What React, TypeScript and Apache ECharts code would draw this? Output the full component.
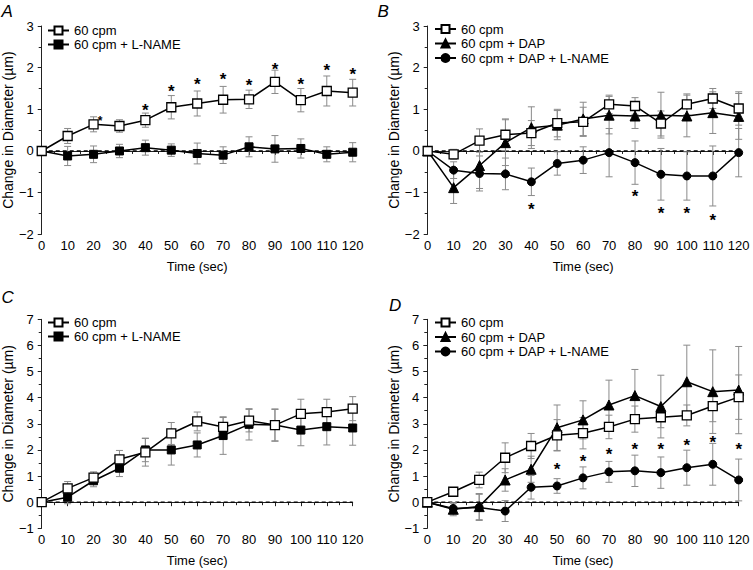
import React, { useEffect, useRef } from "react";
import * as echarts from "echarts";

const times = [0, 10, 20, 30, 40, 50, 60, 70, 80, 90, 100, 110, 120];
const xTickLabels = ["0", "10", "20", "30", "40", "50", "60", "70", "80", "90", "100", "110", "120"];

// Panel A
const aCpm = [0, 0.36, 0.64, 0.6, 0.74, 1.05, 1.14, 1.23, 1.24, 1.66, 1.22, 1.44, 1.4];
const aCpmErr = [0, 0.18, 0.18, 0.15, 0.17, 0.28, 0.3, 0.32, 0.22, 0.28, 0.28, 0.36, 0.32];
const aLname = [0, -0.12, -0.08, 0, 0.08, 0.02, -0.06, -0.1, 0.1, 0.05, 0.06, -0.08, -0.03];
const aLnameErr = [0, 0.23, 0.2, 0.16, 0.18, 0.15, 0.25, 0.2, 0.24, 0.32, 0.23, 0.18, 0.23];
const aStarX = [40, 50, 60, 70, 80, 90, 100, 110, 120];
const aStarY = [1.06, 1.52, 1.69, 1.82, 1.66, 2.06, 1.69, 2.04, 1.94];
const aSmallStarX = [22.5];
const aSmallStarY = [0.8];

// Panel B
const bCpm = [0, -0.08, 0.25, 0.39, 0.43, 0.67, 0.7, 1.12, 1.08, 0.66, 1.12, 1.26, 1.02];
const bCpmErr = [0, 0.12, 0.28, 0.38, 0.3, 0.33, 0.35, 0.22, 0.2, 0.3, 0.25, 0.24, 0.4];
const bDap = [0, -0.88, -0.35, 0.2, 0.56, 0.62, 0.77, 0.86, 0.84, 0.86, 0.84, 0.92, 0.83];
const bDapErr = [0, 0.38, 0.55, 0.55, 0.5, 0.35, 0.4, 0.45, 0.3, 0.55, 0.5, 0.5, 0.55];
const bDapL = [0, -0.46, -0.54, -0.55, -0.74, -0.3, -0.22, -0.04, -0.28, -0.56, -0.6, -0.6, -0.04];
const bDapLErr = [0, 0.2, 0.42, 0.38, 0.33, 0.28, 0.32, 0.58, 0.52, 0.62, 0.58, 0.72, 0.58];
const bStarX = [40, 80, 90, 100, 110];
const bStarY = [-1.3, -1.0, -1.4, -1.4, -1.58];

// Panel C
const cCpm = [0, 0.53, 0.94, 1.64, 1.91, 2.63, 3.09, 2.88, 3.12, 2.95, 3.38, 3.45, 3.58];
const cCpmErr = [0, 0.26, 0.22, 0.34, 0.53, 0.42, 0.36, 0.36, 0.43, 0.6, 0.56, 0.49, 0.46];
const cLname = [0, 0.19, 0.82, 1.3, 2.0, 2.0, 2.19, 2.55, 2.98, 2.95, 2.76, 2.89, 2.84];
const cLnameErr = [0, 0.25, 0.23, 0.32, 0.45, 0.58, 0.46, 0.72, 0.6, 0.62, 0.6, 0.7, 0.66];

// Panel D
const dCpm = [0, 0.4, 0.85, 1.7, 2.15, 2.56, 2.64, 2.88, 3.18, 3.25, 3.32, 3.68, 4.02];
const dCpmErr = [0, 0.1, 0.3, 0.57, 0.48, 0.6, 0.6, 0.45, 0.5, 0.4, 0.4, 0.6, 0.85];
const dDap = [0, -0.27, -0.17, 0.85, 1.26, 2.85, 3.15, 3.72, 4.08, 3.66, 4.61, 4.23, 4.29];
const dDapErr = [0, 0.25, 0.5, 0.43, 0.5, 0.87, 0.73, 0.95, 1.0, 1.2, 1.4, 1.6, 1.67];
const dDapL = [0, -0.24, -0.2, -0.34, 0.57, 0.62, 0.93, 1.16, 1.2, 1.13, 1.32, 1.45, 0.85];
const dDapLErr = [0, 0.2, 0.5, 0.4, 0.45, 0.28, 0.42, 0.4, 0.6, 0.6, 0.67, 0.8, 0.8];
const dStarX = [50, 60, 70, 80, 90, 100, 110, 120];
const dStarY = [1.39, 1.7, 1.97, 2.16, 2.16, 2.34, 2.44, 2.16];

const NAME_CPM = "60 cpm";
const NAME_LNAME = "60 cpm + L-NAME";
const NAME_DAP = "60 cpm + DAP";
const NAME_DAPL = "60 cpm + DAP + L-NAME";

const FONT = "Liberation Sans, Arial, Helvetica, sans-serif";
const AXIS_COLOR = "#222";
const ERR_COLOR = "#8a8a8a";

type Style = "openSquare" | "filledSquare" | "triangle" | "circle";

function lineSeries(name: string, idx: number, vals: number[], style: Style) {
  let symbol = "rect";
  let symbolSize = 9;
  let itemStyle: any = { color: "#000", borderColor: "#000", borderWidth: 1 };
  if (style === "openSquare") {
    itemStyle = { color: "#fff", borderColor: "#000", borderWidth: 1.3 };
    symbolSize = 9;
  } else if (style === "filledSquare") {
    symbolSize = 8;
  } else if (style === "triangle") {
    symbol = "triangle";
    symbolSize = 10;
  } else {
    symbol = "circle";
    symbolSize = 8;
  }
  return {
    type: "line",
    name,
    xAxisIndex: idx,
    yAxisIndex: idx,
    data: times.map((t, i) => [t, vals[i]]),
    symbol,
    symbolSize,
    showAllSymbol: true,
    itemStyle,
    lineStyle: { color: "#000", width: 1.5 },
    z: style === "openSquare" ? 5 : 4,
    silent: true,
  };
}

function errSeries(idx: number, vals: number[], errs: number[]) {
  return {
    type: "custom",
    xAxisIndex: idx,
    yAxisIndex: idx,
    silent: true,
    z: 2,
    itemStyle: { color: ERR_COLOR },
    encode: { x: 0, y: [1, 2] },
    data: times.map((t, i) => [t, vals[i] - errs[i], vals[i] + errs[i]]),
    renderItem: (params: any, api: any) => {
      const x = api.value(0);
      const lo = api.value(1);
      const hi = api.value(2);
      if (hi - lo <= 0) return null;
      const p1 = api.coord([x, lo]);
      const p2 = api.coord([x, hi]);
      const w = 3.5;
      const st = { stroke: ERR_COLOR, lineWidth: 1 };
      return {
        type: "group",
        children: [
          { type: "line", shape: { x1: p1[0], y1: p1[1], x2: p2[0], y2: p2[1] }, style: st },
          { type: "line", shape: { x1: p1[0] - w, y1: p1[1], x2: p1[0] + w, y2: p1[1] }, style: st },
          { type: "line", shape: { x1: p2[0] - w, y1: p2[1], x2: p2[0] + w, y2: p2[1] }, style: st },
        ],
      };
    },
  };
}

function starSeries(idx: number, xs: number[], ys: number[], size: number) {
  return {
    type: "custom",
    xAxisIndex: idx,
    yAxisIndex: idx,
    silent: true,
    z: 6,
    itemStyle: { color: "#000" },
    data: xs.map((x, i) => [x, ys[i]]),
    renderItem: (params: any, api: any) => {
      const p = api.coord([api.value(0), api.value(1)]);
      return {
        type: "text",
        x: p[0],
        y: p[1] + size * 0.24,
        style: {
          text: "*",
          fontSize: size,
          fontFamily: FONT,
          fontWeight: "bold",
          fill: "#000",
          align: "center",
          verticalAlign: "middle",
        },
      };
    },
  };
}

function zeroLine(idx: number) {
  return {
    type: "line",
    xAxisIndex: idx,
    yAxisIndex: idx,
    data: [
      [0, 0],
      [120, 0],
    ],
    symbol: "none",
    silent: true,
    itemStyle: { color: "#000" },
    lineStyle: { color: "#000", width: 1.3, type: [4, 3] },
    z: 1,
  };
}

function xAxis(idx: number) {
  return {
    type: "value",
    gridIndex: idx,
    min: 0,
    max: 120,
    interval: 10,
    name: "Time (sec)",
    nameLocation: "middle",
    nameGap: 26,
    nameTextStyle: { fontFamily: FONT, fontSize: 13, color: "#000" },
    axisLine: { show: true, lineStyle: { color: AXIS_COLOR, width: 1 } },
    axisTick: { show: true, inside: false, length: 4, lineStyle: { color: AXIS_COLOR } },
    minorTick: { show: true, splitNumber: 2, length: 3, lineStyle: { color: AXIS_COLOR } },
    splitLine: { show: false },
    axisLabel: {
      fontFamily: FONT,
      fontSize: 13,
      color: "#000",
      margin: 5,
      formatter: (v: number) => xTickLabels[times.indexOf(v)] ?? String(v),
    },
  };
}

function yAxis(idx: number, min: number, max: number) {
  return {
    type: "value",
    gridIndex: idx,
    min,
    max,
    interval: 1,
    name: "Change in Diameter (µm)",
    nameLocation: "middle",
    nameGap: 26,
    nameTextStyle: { fontFamily: FONT, fontSize: 14, color: "#000" },
    axisLine: { show: true, lineStyle: { color: AXIS_COLOR, width: 1 } },
    axisTick: { show: true, inside: false, length: 4, lineStyle: { color: AXIS_COLOR } },
    minorTick: { show: true, splitNumber: 2, length: 3, lineStyle: { color: AXIS_COLOR } },
    splitLine: { show: false },
    axisLabel: {
      fontFamily: FONT,
      fontSize: 13,
      color: "#000",
      margin: 8,
      formatter: (v: number) => String(v).replace("-", "\u2212"),
    },
  };
}

function legend(left: number, top: number, names: string[], gap: number) {
  return {
    orient: "vertical",
    left,
    top,
    itemWidth: 21,
    itemHeight: 10,
    itemGap: gap,
    data: names,
    selectedMode: false,
    textStyle: { fontFamily: FONT, fontSize: 13, color: "#000", lineHeight: 13, padding: [0, 0, 0, 0] },
    padding: 0,
  };
}

function panelLabel(text: string, x: number, y: number) {
  return {
    type: "text",
    x,
    y,
    style: {
      text,
      fontFamily: FONT,
      fontSize: 17,
      fontStyle: "italic",
      fill: "#000",
      align: "left",
      verticalAlign: "middle",
    },
  };
}

export default function App() {
  const ref = useRef<HTMLDivElement>(null);
  useEffect(() => {
    if (!ref.current) return;
    const chart = echarts.init(ref.current, undefined, { renderer: "svg" });
    const option: any = {
      animation: false,
      backgroundColor: "#fff",
      textStyle: { fontFamily: FONT },
      grid: [
        { left: 41.7, top: 26, width: 311, height: 208.3 },
        { left: 427.7, top: 26, width: 311, height: 208.3 },
        { left: 41.7, top: 319.3, width: 311, height: 209 },
        { left: 427.3, top: 319.3, width: 311.4, height: 209 },
      ],
      xAxis: [xAxis(0), xAxis(1), xAxis(2), xAxis(3)],
      yAxis: [yAxis(0, -2, 3), yAxis(1, -2, 3), yAxis(2, -1, 7), yAxis(3, -1, 7)],
      legend: [
        legend(47, 24, [NAME_CPM, NAME_LNAME], 1),
        legend(434, 22.5, [NAME_CPM, NAME_DAP, NAME_DAPL], 1.5),
        legend(47, 316, [NAME_CPM, NAME_LNAME], 1),
        legend(434, 316, [NAME_CPM, NAME_DAP, NAME_DAPL], 1.5),
      ],
      graphic: [
        panelLabel("A", 1.5, 11),
        panelLabel("B", 377.5, 11),
        panelLabel("C", 1.5, 297.5),
        panelLabel("D", 389, 305),
      ],
      series: [
        zeroLine(0),
        errSeries(0, aCpm, aCpmErr),
        errSeries(0, aLname, aLnameErr),
        lineSeries(NAME_LNAME, 0, aLname, "filledSquare"),
        lineSeries(NAME_CPM, 0, aCpm, "openSquare"),
        starSeries(0, aStarX, aStarY, 17),
        starSeries(0, aSmallStarX, aSmallStarY, 12),

        zeroLine(1),
        errSeries(1, bCpm, bCpmErr),
        errSeries(1, bDap, bDapErr),
        errSeries(1, bDapL, bDapLErr),
        lineSeries(NAME_DAPL, 1, bDapL, "circle"),
        lineSeries(NAME_DAP, 1, bDap, "triangle"),
        lineSeries(NAME_CPM, 1, bCpm, "openSquare"),
        starSeries(1, bStarX, bStarY, 17),

        zeroLine(2),
        errSeries(2, cCpm, cCpmErr),
        errSeries(2, cLname, cLnameErr),
        lineSeries(NAME_LNAME, 2, cLname, "filledSquare"),
        lineSeries(NAME_CPM, 2, cCpm, "openSquare"),

        zeroLine(3),
        errSeries(3, dCpm, dCpmErr),
        errSeries(3, dDap, dDapErr),
        errSeries(3, dDapL, dDapLErr),
        lineSeries(NAME_DAPL, 3, dDapL, "circle"),
        lineSeries(NAME_DAP, 3, dDap, "triangle"),
        lineSeries(NAME_CPM, 3, dCpm, "openSquare"),
        starSeries(3, dStarX, dStarY, 17),
      ],
    };
    chart.setOption(option);
    return () => chart.dispose();
  }, []);
  return (
    <div
      ref={ref}
      style={{ position: "absolute", left: 0, top: 0, width: 753, height: 570, background: "#fff" }}
    />
  );
}
